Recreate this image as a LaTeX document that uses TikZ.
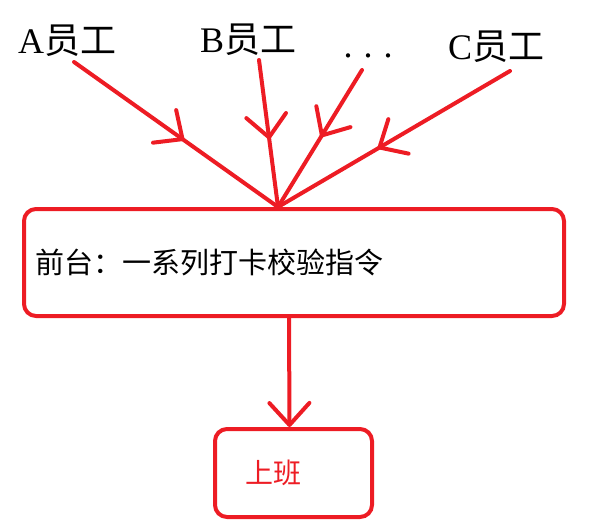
\documentclass[tikz,border=0pt]{standalone}
\usepackage{fontspec}
\setmainfont{Liberation Serif}
\newfontfamily\cjk{Noto Sans CJK SC}
\usetikzlibrary{arrows.meta,decorations.markings}
\definecolor{paintRed}{HTML}{ED1C24}
\newcommand{\staff}[1]{#1{\cjk 员工}}

\begin{document}
\begin{tikzpicture}[x=1pt, y=-1pt,
  >={Straight Barb[length=22pt,width=40pt,round]},
  flow/.style={draw=paintRed, line width=4pt, line cap=round},
  midarrow/.style={postaction={decorate, decoration={markings, mark=at position #1 with {\arrow{>}}}}},
  who/.style={anchor=base west, inner sep=0pt, font=\fontsize{36}{40}\selectfont},
  redbox/.style={draw=paintRed, line width=4pt, rounded corners=12pt, align=left}]
  \useasboundingbox (0,0) rectangle (591,524);

  \node[who] (a) at (18,54) {\staff{A}};
  \node[who] (b) at (200,53) {\staff{B}};
  \node[who] (dots) at (343.5,58) {.\hspace{11pt}.\hspace{11pt}.};
  \node[who] (c) at (448,60) {\staff{C}};

  \node[redbox, minimum width=540pt, minimum height=107pt, text width=518pt, inner xsep=11pt,
        font=\fontsize{29}{34}\selectfont\cjk] (desk) at (294,262.5) {前台：一系列打卡校验指令};
  \node[redbox, minimum width=157pt, minimum height=88pt, text width=97pt, inner xsep=30pt,
        text=paintRed, font=\fontsize{28}{32}\selectfont\cjk] (work) at (293.5,473) {上班};

  \coordinate (hub) at ([xshift=-16pt]desk.north);
  \coordinate (a-tail) at (74,62);
  \coordinate (b-tail) at (259,60);
  \coordinate (dots-tail) at (362,70);
  \coordinate (c-tail) at (510,71);

  \draw[flow, midarrow=0.54] (a-tail) -- (hub);
  \draw[flow, midarrow=0.54] (b-tail) -- (hub);
  \draw[flow, midarrow=0.49] (dots-tail) -- (hub);
  \draw[flow, midarrow=0.57] (c-tail) -- (hub);
  \draw[flow, ->] ([xshift=-5pt]desk.south) -- ([xshift=-4pt]work.north);
\end{tikzpicture}
\end{document}
